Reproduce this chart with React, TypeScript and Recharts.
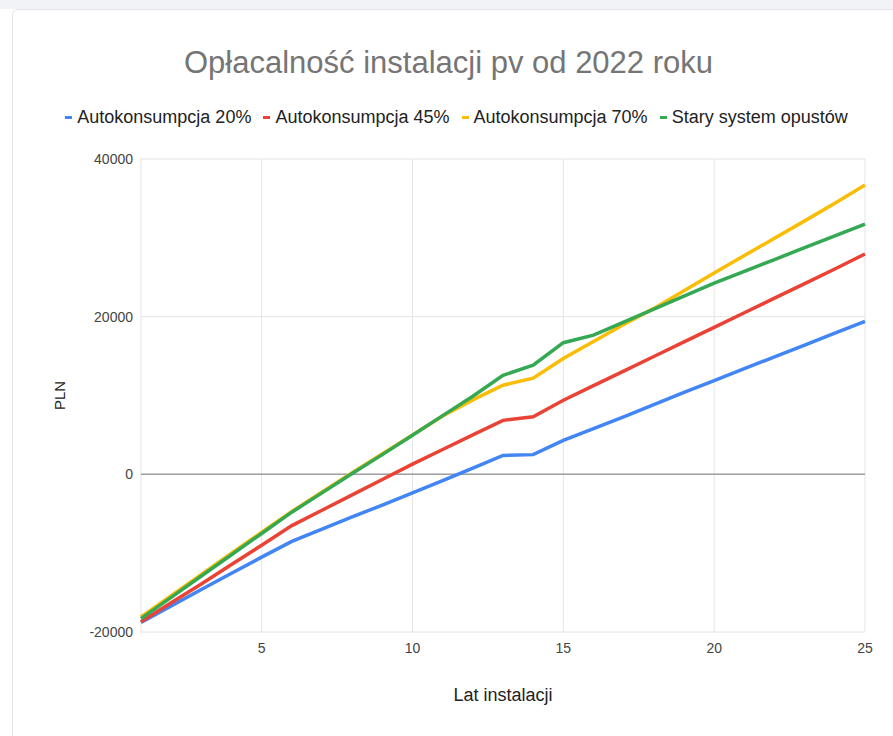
import { LineChart, Line, XAxis, YAxis, CartesianGrid, ReferenceLine } from 'recharts';

const years = [1, 2, 3, 4, 5, 6, 7, 8, 9, 10, 11, 12, 13, 14, 15, 16, 17, 18, 19, 20, 21, 22, 23, 24, 25];

const auto20 = [-18800, -16700, -14600, -12550, -10500, -8500, -6950, -5400, -3900, -2350, -800, 800, 2400, 2500, 4300, 5800, 7300, 8850, 10400, 11900, 13400, 14900, 16400, 17900, 19400];
const auto45 = [-18700, -16300, -13900, -11450, -9000, -6500, -4550, -2600, -650, 1300, 3150, 5000, 6850, 7300, 9400, 11250, 13100, 14950, 16800, 18650, 20500, 22350, 24200, 26050, 27950];
const auto70 = [-18100, -15400, -12700, -10000, -7350, -4700, -2250, 200, 2600, 5000, 7400, 9450, 11300, 12200, 14700, 16850, 19000, 21050, 23300, 25550, 27750, 29950, 32150, 34400, 36700];
const oldSystem = [-18300, -15600, -12900, -10200, -7500, -4800, -2350, 100, 2500, 4950, 7450, 9900, 12550, 13850, 16700, 17650, 19300, 20950, 22600, 24250, 25750, 27250, 28750, 30250, 31750];

const xTicks = [5, 10, 15, 20, 25];
const yTicks = [-20000, 0, 20000, 40000];

const series = [
  { key: 'a20', name: 'Autokonsumpcja 20%', color: '#4285f4' },
  { key: 'a45', name: 'Autokonsumpcja 45%', color: '#ea4335' },
  { key: 'a70', name: 'Autokonsumpcja 70%', color: '#fbbc04' },
  { key: 'old', name: 'Stary system opustów', color: '#34a853' },
];

const data = years.map((year, i) => ({
  year,
  a20: auto20[i],
  a45: auto45[i],
  a70: auto70[i],
  old: oldSystem[i],
}));

const font = '"Liberation Sans", Arial, sans-serif';

export default function App() {
  return (
    <div style={{ position: 'absolute', left: 0, top: 0, width: 893, height: 736, background: '#fff', fontFamily: font, overflow: 'hidden' }}>
      <div style={{ position: 'absolute', left: 0, top: 0, width: 893, height: 9, background: '#f2f3f7' }} />
      <div style={{ position: 'absolute', left: 12, top: 9, width: 900, height: 740, border: '1px solid #e4e5ea', borderRadius: 6, boxSizing: 'border-box' }} />

      <div style={{ position: 'absolute', left: 2, top: 47, width: 893, textAlign: 'center', fontSize: 31, lineHeight: '31px', color: '#757575' }}>
        Opłacalność instalacji pv od 2022 roku
      </div>

      <div style={{ position: 'absolute', left: 10, top: 108, width: 893, display: 'flex', justifyContent: 'center', gap: 12, fontSize: 18, lineHeight: '18px', color: '#222' }}>
        {series.map((s) => (
          <div key={s.key} style={{ display: 'flex', alignItems: 'center' }}>
            <span style={{ display: 'inline-block', width: 7, height: 3, background: s.color, marginRight: 5 }} />
            <span>{s.name}</span>
          </div>
        ))}
      </div>

      <LineChart
        width={893}
        height={736}
        data={data}
        margin={{ top: 159, right: 28, bottom: 34, left: 0 }}
        style={{ position: 'absolute', left: 0, top: 0 }}
      >
        <CartesianGrid stroke="#e4e4e4" />
        <XAxis
          dataKey="year"
          type="number"
          domain={[1, 25]}
          ticks={xTicks}
          axisLine={false}
          tickLine={false}
          tickSize={0}
          tickMargin={11}
          height={70}
          tick={{ fontSize: 14, fill: '#444', fontFamily: font }}
          label={{ value: 'Lat instalacji', position: 'insideBottom', offset: 1, fontSize: 18, fill: '#222', fontFamily: font }}
        />
        <YAxis
          type="number"
          domain={[-20000, 40000]}
          ticks={yTicks}
          axisLine={false}
          tickLine={false}
          tickSize={0}
          tickMargin={8}
          width={141}
          tick={{ fontSize: 14, fill: '#444', fontFamily: font }}
          label={{
            content: (props: any) => {
              const vb = props.viewBox || { x: 0, y: 159, width: 141, height: 473 };
              const cx = vb.x + 59;
              const cy = vb.y + vb.height / 2;
              return (
                <text x={cx} y={cy} transform={`rotate(-90 ${cx} ${cy})`} textAnchor="middle" dominantBaseline="central" fontSize={15} fill="#222" fontFamily={font}>
                  PLN
                </text>
              );
            },
          }}
        />
        <ReferenceLine y={0} stroke="#9e9e9e" strokeWidth={1.5} />
        {series.map((s) => (
          <Line
            key={s.key}
            type="linear"
            dataKey={s.key}
            name={s.name}
            stroke={s.color}
            strokeWidth={3.5}
            dot={false}
            isAnimationActive={false}
          />
        ))}
      </LineChart>
    </div>
  );
}
